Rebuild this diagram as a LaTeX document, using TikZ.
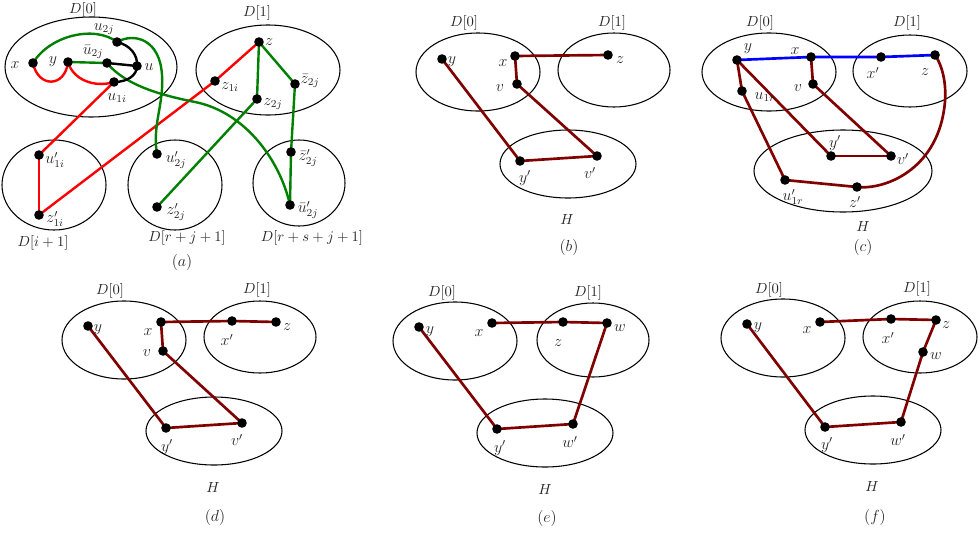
\documentclass[tikz,border=0pt]{standalone}
\usetikzlibrary{shapes.geometric}
\pgfdeclarelayer{background}
\pgfsetlayers{background,main}
\definecolor{dred}{RGB}{128,0,0}
\definecolor{dgreen}{RGB}{0,128,0}
\tikzset{
  dot/.style={circle, fill=black, inner sep=0pt, minimum size=7.2pt},
  setbox/.style n args={2}{draw, ellipse, line width=0.8pt, inner sep=0pt, minimum width=#1*1.5pt, minimum height=#2*1.5pt},
  lab/.style={font=\fontsize{12}{14}\selectfont, inner sep=0pt, text=black!85},
  slab/.style={font=\fontsize{11}{13}\selectfont, inner sep=0pt, text=black!85},
  pe/.style={draw=dred, line width=2pt},
  re/.style={draw=red, line width=1.8pt},
  ge/.style={draw=dgreen, line width=1.8pt},
  ke/.style={draw=black, line width=1.8pt},
  be/.style={draw=blue, line width=2pt},
}
\begin{document}
\begin{tikzpicture}[x=0.75pt, y=-0.75pt]
\useasboundingbox (0,0) rectangle (978,532);
% ---------------- sets ----------------
\begin{pgfonlayer}{background}
\node[setbox={86}{50}] (aD0) at (91,67) {};
\node[setbox={72}{45}] (aD1) at (268,70) {};
\node[setbox={52}{45}] (aDi) at (54,185) {};
\node[setbox={47}{45}] (aDr) at (175,185) {};
\node[setbox={46}{43}] (aDs) at (299,183) {};
\node[setbox={62}{39}] (bD0) at (478,72) {};
\node[setbox={56}{37}] (bD1) at (614,70) {};
\node[setbox={68}{34}] (bH) at (568,164) {};
\node[setbox={67}{39}] (cD0) at (769,72) {};
\node[setbox={57}{36}] (cD1) at (910,71) {};
\node[setbox={89}{41}] (cH) at (843,171) {};
\node[setbox={62}{39}] (dD0) at (124,340) {};
\node[setbox={56}{36}] (dD1) at (260,337) {};
\node[setbox={68}{34}] (dH) at (214,431) {};
\node[setbox={62}{39}] (eD0) at (455,341) {};
\node[setbox={56}{37}] (eD1) at (593,340) {};
\node[setbox={68}{34}] (eH) at (545,433) {};
\node[setbox={62}{39}] (fD0) at (783,338) {};
\node[setbox={57}{36}] (fD1) at (920,337) {};
\node[setbox={68}{34}] (fH) at (873,430) {};
\end{pgfonlayer}
% ---------------- set labels ----------------
\node[slab] (laD0) at (83,10) {$D[0]$};
\node[slab] (laD1) at (257,13) {$D[1]$};
\node[slab] (laDi) at (43,243) {$D[i+1]$};
\node[slab] (laDr) at (187,238) {$D[r+j+1]$};
\node[slab] (laDs) at (312,238) {$D[r+s+j+1]$};
\node[lab] (capa) at (182,262) {$(a)$};
\node[slab] (lbD0) at (464,23) {$D[0]$};
\node[slab] (lbD1) at (612,23) {$D[1]$};
\node[slab] (lbH) at (567,220) {$H$};
\node[lab] (capb) at (569,247) {$(b)$};
\node[slab] (lcD0) at (760,23) {$D[0]$};
\node[slab] (lcD1) at (907,23) {$D[1]$};
\node[slab] (lcH) at (863,227) {$H$};
\node[lab] (capc) at (863,247) {$(c)$};
\node[slab] (ldD0) at (110,291) {$D[0]$};
\node[slab] (ldD1) at (257,290) {$D[1]$};
\node[slab] (ldH) at (213,488) {$H$};
\node[lab] (capd) at (215,517) {$(d)$};
\node[slab] (leD0) at (442,293) {$D[0]$};
\node[slab] (leD1) at (588,293) {$D[1]$};
\node[slab] (leH) at (545,490) {$H$};
\node[lab] (cape) at (547,518) {$(e)$};
\node[slab] (lfD0) at (769,290) {$D[0]$};
\node[slab] (lfD1) at (917,289) {$D[1]$};
\node[slab] (lfH) at (872,487) {$H$};
\node[lab] (capf) at (875,517) {$(f)$};
% ---------------- panel (a) vertices ----------------
\node[dot] (ax) at (33,63) {};   \node[lab] (lax) at (15,65) {$x$};
\node[dot] (ay) at (68,62) {};   \node[lab] (lay) at (53,62) {$y$};
\node[dot] (aub) at (107,63) {}; \node[lab] (laub) at (93,52) {$\bar u_{2j}$};
\node[dot] (au) at (137,66) {};  \node[lab] (lau) at (149,67) {$u$};
\node[dot] (au2) at (117,42) {}; \node[lab] (lau2) at (104,29) {$u_{2j}$};
\node[dot] (au1) at (114,82) {}; \node[lab] (lau1) at (117,98) {$u_{1i}$};
\node[dot] (az) at (259,42) {};  \node[lab] (laz) at (269,42) {$z$};
\node[dot] (az1) at (215,81) {}; \node[lab] (laz1) at (230,87) {$z_{1i}$};
\node[dot] (az2) at (257,99) {}; \node[lab] (laz2) at (273,104) {$z_{2j}$};
\node[dot] (azb) at (295,84) {}; \node[lab] (lazb) at (310,81) {$\bar z_{2j}$};
\node[dot] (au1p) at (39,155) {}; \node[lab] (lau1p) at (55,160) {$u'_{1i}$};
\node[dot] (az1p) at (39,215) {}; \node[lab] (laz1p) at (55,219) {$z'_{1i}$};
\node[dot] (au2p) at (157,154) {}; \node[lab] (lau2p) at (176,160) {$u'_{2j}$};
\node[dot] (az2p) at (157,207) {}; \node[lab] (laz2p) at (176,212) {$z'_{2j}$};
\node[dot] (azbp) at (291,152) {}; \node[lab] (lazbp) at (308,158) {$\bar z'_{2j}$};
\node[dot] (aubp) at (290,205) {}; \node[lab] (laubp) at (308,210) {$\bar u'_{2j}$};
% ---------------- panel (b) vertices ----------------
\node[dot] (by) at (442,59) {};  \node[lab] (lby) at (452,62) {$y$};
\node[dot] (bx) at (515,56) {};  \node[lab] (lbx) at (503,63) {$x$};
\node[dot] (bv) at (517,84) {};  \node[lab] (lbv) at (500,88) {$v$};
\node[dot] (bz) at (608,55) {};  \node[lab] (lbz) at (620,60) {$z$};
\node[dot] (byp) at (520,161) {}; \node[lab] (lbyp) at (525,178) {$y'$};
\node[dot] (bvp) at (597,156) {}; \node[lab] (lbvp) at (590,173) {$v'$};
% ---------------- panel (c) vertices ----------------
\node[dot] (cy) at (737,60) {};  \node[lab] (lcy) at (748,49) {$y$};
\node[dot] (cx) at (811,57) {};  \node[lab] (lcx) at (795,51) {$x$};
\node[dot] (cv) at (813,84) {};  \node[lab] (lcv) at (798,88) {$v$};
\node[dot] (cu) at (742,91) {};  \node[lab] (lcu) at (765,97) {$u_{1r}$};
\node[dot] (cxp) at (881,57) {}; \node[lab] (lcxp) at (873,73) {$x'$};
\node[dot] (cz) at (935,55) {};  \node[lab] (lcz) at (925,72) {$z$};
\node[dot] (cyp) at (831,156) {}; \node[lab] (lcyp) at (835,143) {$y'$};
\node[dot] (cvp) at (891,156) {}; \node[lab] (lcvp) at (903,159) {$v'$};
\node[dot] (cup) at (785,180) {}; \node[lab] (lcup) at (793,197) {$u'_{1r}$};
\node[dot] (czp) at (857,187) {}; \node[lab] (lczp) at (855,202) {$z'$};
% ---------------- panel (d) vertices ----------------
\node[dot] (dy) at (88,326) {};  \node[lab] (ldy) at (98,330) {$y$};
\node[dot] (dx) at (161,322) {}; \node[lab] (ldx) at (148,332) {$x$};
\node[dot] (dv) at (163,351) {}; \node[lab] (ldv) at (147,353) {$v$};
\node[dot] (dxp) at (232,321) {}; \node[lab] (ldxp) at (227,340) {$x'$};
\node[dot] (dz) at (276,322) {}; \node[lab] (ldz) at (287,327) {$z$};
\node[dot] (dyp) at (166,428) {}; \node[lab] (ldyp) at (167,447) {$y'$};
\node[dot] (dvp) at (242,423) {}; \node[lab] (ldvp) at (237,440) {$v'$};
% ---------------- panel (e) vertices ----------------
\node[dot] (ey) at (419,327) {}; \node[lab] (ley) at (430,332) {$y$};
\node[dot] (ex) at (492,323) {}; \node[lab] (lex) at (479,333) {$x$};
\node[dot] (ez) at (563,322) {}; \node[lab] (lez) at (558,343) {$z$};
\node[dot] (ew) at (607,323) {}; \node[lab] (lew) at (620,328) {$w$};
\node[dot] (eyp) at (497,429) {}; \node[lab] (leyp) at (500,448) {$y'$};
\node[dot] (ewp) at (573,424) {}; \node[lab] (lewp) at (570,442) {$w'$};
% ---------------- panel (f) vertices ----------------
\node[dot] (fy) at (747,324) {}; \node[lab] (lfy) at (758,328) {$y$};
\node[dot] (fx) at (820,322) {}; \node[lab] (lfx) at (807,330) {$x$};
\node[dot] (fxp) at (891,319) {}; \node[lab] (lfxp) at (888,338) {$x'$};
\node[dot] (fz) at (936,320) {}; \node[lab] (lfz) at (946,325) {$z$};
\node[dot] (fw) at (923,352) {}; \node[lab] (lfw) at (936,356) {$w$};
\node[dot] (fyp) at (825,427) {}; \node[lab] (lfyp) at (827,445) {$y'$};
\node[dot] (fwp) at (901,422) {}; \node[lab] (lfwp) at (898,440) {$w'$};
% ---------------- edges ----------------
\begin{pgfonlayer}{background}
% (a) red
\draw[re] (ax.center) .. controls (38,88) and (65,88) .. (ay.center);
\draw[re] (ay.center) .. controls (73,80) and (95,88) .. (au1.center);
\draw[re] (au1.center) -- (au1p.center);
\draw[re] (au1p.center) -- (az1p.center);
\draw[re] (az1p.center) -- (az1.center);
\draw[re] (az1.center) -- (az.center);
% (a) green
\draw[ge] (ax.center) .. controls (50,35) and (95,25) .. (au2.center);
\draw[ge] (ay.center) -- (aub.center);
\draw[ge] (au2.center) .. controls (135,32) and (160,40) .. (162,75) .. controls (164,105) and (152,125) .. (au2p.center);
\draw[ge] (aub.center) .. controls (125,85) and (160,95) .. (195,102) .. controls (245,112) and (280,160) .. (aubp.center);
\draw[ge] (az.center) -- (az2.center);
\draw[ge] (az.center) -- (azb.center);
\draw[ge] (az2.center) -- (az2p.center);
\draw[ge] (azb.center) -- (azbp.center);
\draw[ge] (azbp.center) -- (aubp.center);
% (a) black
\draw[ke] (au2.center) .. controls (130,45) and (138,55) .. (au.center);
\draw[ke] (au.center) .. controls (137,75) and (128,82) .. (au1.center);
\draw[ke] (aub.center) -- (au.center);
% (b)
\draw[pe] (bx.center) -- (bz.center);
\draw[pe] (bx.center) -- (bv.center);
\draw[pe] (bv.center) -- (bvp.center);
\draw[pe] (by.center) -- (byp.center);
\draw[pe] (byp.center) -- (bvp.center);
% (c)
\draw[be] (cy.center) -- (cx.center) -- (cxp.center) -- (cz.center);
\draw[pe] (cx.center) -- (cv.center);
\draw[pe] (cv.center) -- (cvp.center);
\draw[pe] (cy.center) -- (cyp.center);
\draw[pe] (cyp.center) -- (cvp.center);
\draw[pe] (cy.center) -- (cu.center);
\draw[pe] (cu.center) -- (cup.center);
\draw[pe] (cup.center) -- (czp.center);
\draw[pe] (czp.center) .. controls (885,190) and (935,170) .. (944,110) .. controls (948,85) and (942,65) .. (cz.center);
% (d)
\draw[pe] (dx.center) -- (dxp.center) -- (dz.center);
\draw[pe] (dx.center) -- (dv.center);
\draw[pe] (dv.center) -- (dvp.center);
\draw[pe] (dy.center) -- (dyp.center);
\draw[pe] (dyp.center) -- (dvp.center);
% (e)
\draw[pe] (ex.center) -- (ez.center) -- (ew.center);
\draw[pe] (ew.center) -- (ewp.center);
\draw[pe] (ey.center) -- (eyp.center);
\draw[pe] (eyp.center) -- (ewp.center);
% (f)
\draw[pe] (fx.center) -- (fxp.center) -- (fz.center);
\draw[pe] (fz.center) -- (fw.center);
\draw[pe] (fw.center) -- (fwp.center);
\draw[pe] (fy.center) -- (fyp.center);
\draw[pe] (fyp.center) -- (fwp.center);
\end{pgfonlayer}
\end{tikzpicture}
\end{document}
